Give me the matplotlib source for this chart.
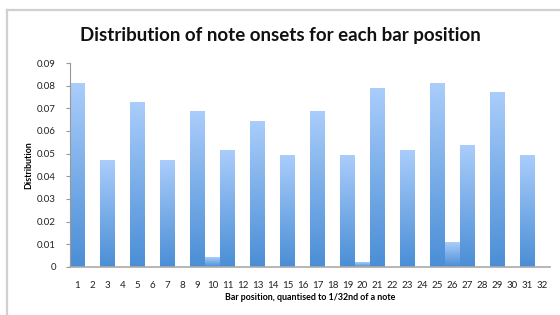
import numpy as np
import matplotlib
matplotlib.use('Agg')
import matplotlib.pyplot as plt
from matplotlib.colors import LinearSegmentedColormap
from matplotlib.lines import Line2D

positions = list(range(1, 33))
onsets = [0.0811, 0, 0.0470, 0, 0.0727, 0, 0.0470, 0,
          0.0684, 0.0041, 0.0513, 0, 0.0642, 0, 0.0491, 0,
          0.0684, 0, 0.0491, 0.0021, 0.0789, 0, 0.0513, 0,
          0.0811, 0.0108, 0.0534, 0, 0.0768, 0, 0.0491, 0]
y_ticks = [0, 0.01, 0.02, 0.03, 0.04, 0.05, 0.06, 0.07, 0.08, 0.09]
y_labels = ['0', '0.01', '0.02', '0.03', '0.04', '0.05', '0.06', '0.07', '0.08', '0.09']

plt.rcParams['font.family'] = ['Lato', 'DejaVu Sans']

fig = plt.figure(figsize=(5.6, 3.15), dpi=100)
ax = fig.add_axes([0.125, 0.1524, 0.857, 0.6476])

# border around the chart, like the spreadsheet chart frame
fig.add_artist(Line2D([7/560, 7/560], [0, 1 - 10/315], transform=fig.transFigure,
                      color='#d0d0d0', linewidth=1.6))
fig.add_artist(Line2D([7/560, 1.0], [1 - 10/315, 1 - 10/315], transform=fig.transFigure,
                      color='#d0d0d0', linewidth=1.6))

bars = ax.bar(positions, onsets, width=1.0, facecolor='none', edgecolor='none')

cmap = LinearSegmentedColormap.from_list('bluegrad', ['#4a8ed6', '#aacdfb'])
grad = np.linspace(0, 1, 256).reshape(-1, 1)
for b in bars:
    h = b.get_height()
    if h <= 0:
        continue
    x0 = b.get_x()
    ax.imshow(grad, cmap=cmap, origin='lower', aspect='auto',
              extent=(x0, x0 + b.get_width(), 0, h), zorder=2, interpolation='bilinear')

ax.set_xlim(0.5, 32.5)
ax.set_ylim(0, 0.09)
ax.set_xticks(positions)
ax.set_xticklabels([str(p) for p in positions], fontsize=7, color='#222222')
ax.set_yticks(y_ticks)
ax.set_yticklabels(y_labels, fontsize=7, color='#222222')
ax.tick_params(axis='x', length=0, pad=10)
ax.tick_params(axis='y', length=3, width=0.8, color='#999999', pad=7)

for s in ['top', 'right']:
    ax.spines[s].set_visible(False)
ax.spines['left'].set_color('#999999')
ax.spines['bottom'].set_color('#aaaaaa')
ax.spines['left'].set_linewidth(0.8)
ax.spines['bottom'].set_linewidth(1.2)

ax.set_xlabel('Bar position, quantised to 1/32nd of a note', fontsize=6.4,
              fontweight='bold', labelpad=2)
ax.set_ylabel('Distribution', fontsize=6.4, fontweight='bold', labelpad=3)
fig.text(0.5, 1 - 36/315, 'Distribution of note onsets for each bar position',
         ha='center', va='center', fontsize=13.5, fontweight='bold', color='#111111')

fig.savefig('out.png', dpi=100)
